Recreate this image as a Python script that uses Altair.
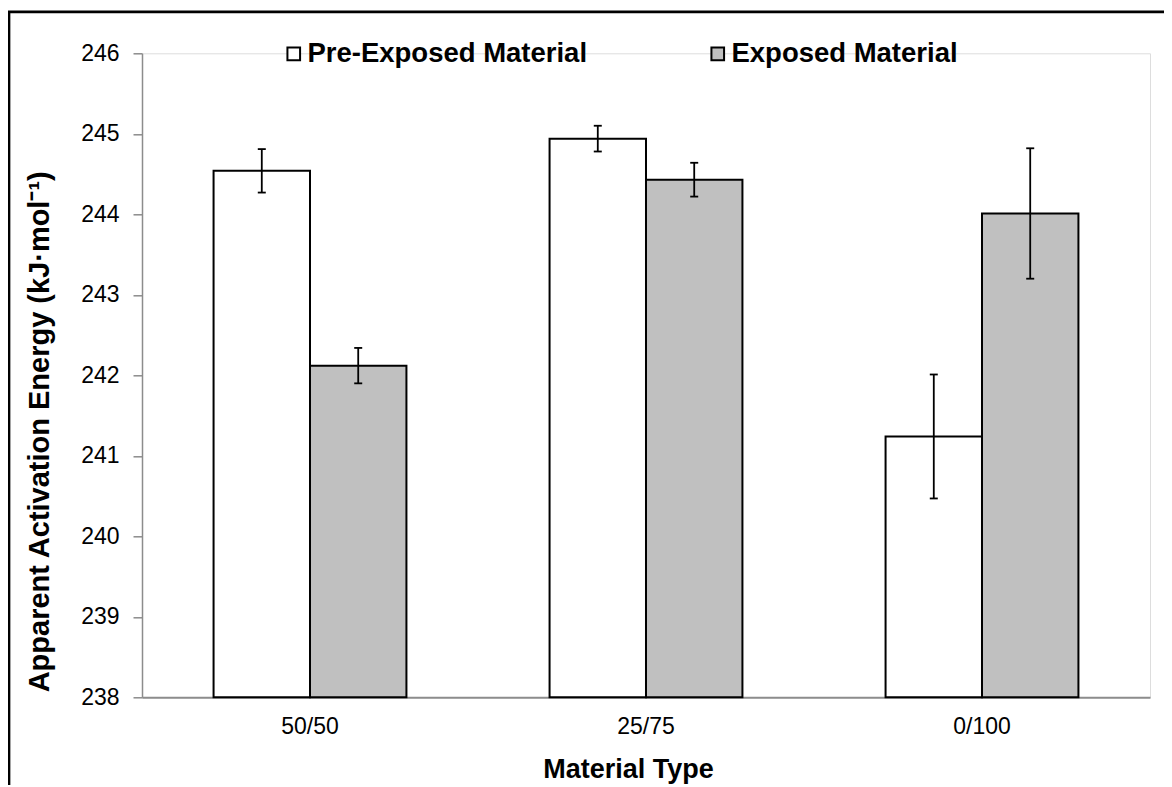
import altair as alt
import pandas as pd

categories = ["50/50", "25/75", "0/100"]
series = ["Pre-Exposed Material", "Exposed Material"]
pre_values = [244.54, 244.94, 241.24]
pre_errors = [0.27, 0.16, 0.77]
exposed_values = [242.12, 244.43, 244.01]
exposed_errors = [0.22, 0.21, 0.81]
y_ticks = [238, 239, 240, 241, 242, 243, 244, 245, 246]

rows = []
for i, c in enumerate(categories):
    rows.append({"cat": c, "series": series[0], "value": pre_values[i],
                 "lo": pre_values[i] - pre_errors[i], "hi": pre_values[i] + pre_errors[i]})
    rows.append({"cat": c, "series": series[1], "value": exposed_values[i],
                 "lo": exposed_values[i] - exposed_errors[i], "hi": exposed_values[i] + exposed_errors[i]})
df = pd.DataFrame(rows)

FONT = "Liberation Sans"

x_enc = alt.X("cat:N", sort=categories,
              scale=alt.Scale(paddingInner=0.426, paddingOuter=0.213),
              axis=alt.Axis(title="Material Type", labelAngle=0, ticks=False, tickSize=0,
                            labelPadding=18, labelFontSize=23, labelFont=FONT, labelColor="black",
                            domainColor="#8c8c8c", domainWidth=2,
                            titleFont=FONT, titleFontSize=27, titleFontWeight="bold",
                            titleColor="black", titleX=486, titleY=80,
                            titleBaseline="alphabetic", titleAlign="center"))
xoff = alt.XOffset("series:N", sort=series, scale=alt.Scale(paddingInner=0, paddingOuter=0))
y_scale = alt.Scale(domain=[238, 246], zero=False, nice=False)

base = alt.Chart(df)

bars = base.mark_bar(stroke="black", strokeWidth=2).encode(
    x=x_enc,
    xOffset=xoff,
    y=alt.Y("value:Q", scale=y_scale,
            axis=alt.Axis(values=y_ticks, format="d", grid=False,
                          title="Apparent Activation Energy (kJ·mol⁻¹)",
                          labelFontSize=23, labelFont=FONT, labelColor="black", labelPadding=14,
                          tickSize=9, tickColor="#8c8c8c", tickWidth=1.5,
                          domainColor="#8c8c8c", domainWidth=1.5,
                          titleFont=FONT, titleFontSize=29, titleFontWeight="bold", titleColor="black",
                          titleAngle=270, titleX=-94, titleY=378,
                          titleBaseline="alphabetic", titleAlign="center")),
    y2=alt.datum(238),
    color=alt.Color("series:N", sort=series,
                    scale=alt.Scale(domain=series, range=["#ffffff", "#c0c0c0"]),
                    legend=alt.Legend(title=None, orient="none", direction="horizontal",
                                      legendX=138, legendY=-13.5, padding=0,
                                      symbolType="square", symbolSize=160,
                                      symbolStrokeColor="black", symbolStrokeWidth=2,
                                      symbolOpacity=1, labelFont=FONT, labelFontSize=27.5,
                                      labelFontWeight="bold", labelColor="black",
                                      labelOffset=0, columnPadding=116, labelLimit=400)),
)

rules = base.mark_rule(color="black", strokeWidth=1.8).encode(
    x=alt.X("cat:N", sort=categories), xOffset=xoff,
    y=alt.Y("lo:Q", scale=y_scale), y2="hi:Q")

caps_hi = base.mark_tick(color="black", thickness=1.8, size=8, opacity=1).encode(
    x=alt.X("cat:N", sort=categories), xOffset=xoff, y=alt.Y("hi:Q", scale=y_scale))
caps_lo = base.mark_tick(color="black", thickness=1.8, size=8, opacity=1).encode(
    x=alt.X("cat:N", sort=categories), xOffset=xoff, y=alt.Y("lo:Q", scale=y_scale))

border = alt.Chart(pd.DataFrame({"a": [0]})).mark_rect(
    fill=None, stroke="black", strokeWidth=2.7).encode(
    x=alt.value(-133), x2=alt.value(1200), y=alt.value(-41.5), y2=alt.value(900))

chart = alt.layer(border, bars, rules, caps_hi, caps_lo).properties(
    width=1008, height=644,
    autosize=alt.AutoSizeParams(type="none"),
    padding={"left": 134, "top": 45.3, "right": 14, "bottom": 88},
).configure_view(stroke=None).configure(background="white")

chart.save("out.html", embed_options={"renderer": "svg", "actions": False})
